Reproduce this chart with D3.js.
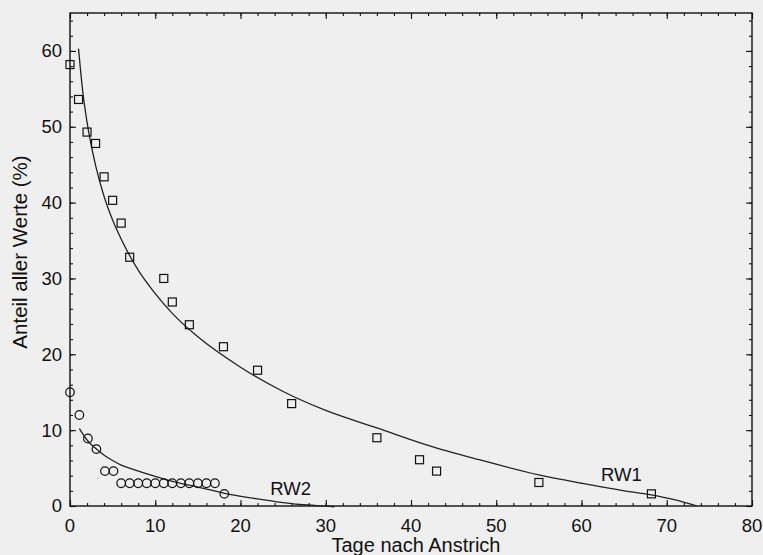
<!DOCTYPE html>
<html>
<head>
<meta charset="utf-8">
<script src="https://cdn.jsdelivr.net/npm/d3@7"></script>
<style>
  body { margin: 0; background: #efefef; }
  svg { display: block; }
  text { font-family: "Liberation Sans", Arial, sans-serif; }
</style>
</head>
<body>
<svg id="chart" width="763" height="555"></svg>
<script>
// RW1 (Quadrate)
var rw1Tage = [0, 1, 2, 3, 4, 5, 6, 7, 11, 12, 14, 18, 22, 26, 36, 41, 43, 55, 68.2];
var rw1Werte = [58.2, 53.6, 49.3, 47.8, 43.4, 40.3, 37.3, 32.8, 30.0, 26.9, 23.9, 21.0, 17.9, 13.5, 9.0, 6.1, 4.6, 3.1, 1.6];

// RW2 (Kreise)
var rw2Tage = [0, 1.1, 2.1, 3.1, 4.1, 5.1, 6, 7, 8, 9, 10, 11, 12, 13, 14, 15, 16, 17, 18.1];
var rw2Werte = [15.0, 12.0, 8.9, 7.5, 4.6, 4.6, 3.0, 3.0, 3.0, 3.0, 3.0, 3.0, 3.0, 3.0, 3.0, 3.0, 3.0, 3.0, 1.6];

// angepasste Kurven
var kurve1Tage = [1, 1.5, 2, 3, 4, 5, 6, 8, 10, 12, 15, 20, 25, 30, 36, 42, 48, 55, 60, 65, 68, 71, 73.5];
var kurve1Werte = [60.3, 54.6, 50.6, 44.9, 40.8, 37.7, 35.2, 31.1, 28.0, 25.4, 22.3, 18.3, 15.1, 12.6, 10.3, 8.0, 6.1, 4.1, 3.0, 2.0, 1.5, 0.8, 0];

var kurve2Tage = [1.1, 1.5, 2, 3, 4, 5, 6, 7.5, 10, 12.5, 15, 18, 21, 24, 27, 29, 31];
var kurve2Werte = [10.2, 9.5, 8.7, 7.6, 6.7, 6.0, 5.4, 4.8, 3.9, 3.1, 2.5, 1.7, 1.1, 0.6, 0.2, 0.05, -0.1];

var xTicks = [0, 10, 20, 30, 40, 50, 60, 70, 80];
var yTicks = [0, 10, 20, 30, 40, 50, 60];

var svg = d3.select("#chart");
var margin = {left: 70, top: 13, right: 11, bottom: 49};
var width = 763 - margin.left - margin.right;
var height = 555 - margin.top - margin.bottom;

var x = d3.scaleLinear().domain([0, 80]).range([0, width]);
var y = d3.scaleLinear().domain([0, 65]).range([height, 0]);

var g = svg.append("g").attr("transform", "translate(" + margin.left + "," + margin.top + ")");

// ticks nach innen
function ticks(axis, scale, values, len) {
  return axis(scale).tickValues(values).tickSizeInner(len).tickSizeOuter(0).tickFormat("");
}
var minorX = d3.range(0, 81, 2);
var minorY = d3.range(0, 65, 2);

g.append("g").attr("class", "ax").attr("transform", "translate(0," + height + ")").call(ticks(d3.axisBottom, x, minorX, -3));
g.append("g").attr("class", "ax").attr("transform", "translate(0," + height + ")").call(ticks(d3.axisBottom, x, xTicks, -6));
g.append("g").attr("class", "ax").call(ticks(d3.axisTop, x, minorX, -3));
g.append("g").attr("class", "ax").call(ticks(d3.axisTop, x, xTicks, -6));
g.append("g").attr("class", "ax").call(ticks(d3.axisLeft, y, minorY, -3));
g.append("g").attr("class", "ax").call(ticks(d3.axisLeft, y, yTicks, -6));
g.append("g").attr("class", "ax").attr("transform", "translate(" + width + ",0)").call(ticks(d3.axisRight, y, minorY, -3));
g.append("g").attr("class", "ax").attr("transform", "translate(" + width + ",0)").call(ticks(d3.axisRight, y, yTicks, -6));
g.selectAll(".ax .domain").remove();
g.selectAll(".ax line").attr("stroke", "#111").attr("stroke-width", 1.1);

g.append("rect")
  .attr("width", width).attr("height", height)
  .attr("fill", "none").attr("stroke", "#111").attr("stroke-width", 1.4);

// tick labels
g.append("g").selectAll("text")
  .data(xTicks)
  .enter()
  .append("text")
  .attr("x", d => x(d))
  .attr("y", height + 26)
  .attr("text-anchor", "middle")
  .style("font-size", "18.5px")
  .attr("fill", "#111")
  .text(d => d);

g.append("g").selectAll("text")
  .data(yTicks)
  .enter()
  .append("text")
  .attr("x", -8)
  .attr("y", d => y(d))
  .attr("dy", "0.35em")
  .attr("text-anchor", "end")
  .style("font-size", "18.5px")
  .attr("fill", "#111")
  .text(d => d);

// Achsentitel
svg.append("text")
  .attr("x", 416)
  .attr("y", 552)
  .attr("text-anchor", "middle")
  .style("font-size", "20px")
  .attr("fill", "#111")
  .text("Tage nach Anstrich");

svg.append("text")
  .attr("transform", "translate(27,252) rotate(-90)")
  .attr("text-anchor", "middle")
  .style("font-size", "20.5px")
  .attr("fill", "#111")
  .text("Anteil aller Werte (%)");

// Kurven
var line = d3.line()
  .x(d => x(d[0]))
  .y(d => y(d[1]))
  .curve(d3.curveMonotoneX);

g.append("path")
  .datum(d3.zip(kurve1Tage, kurve1Werte))
  .attr("d", line)
  .attr("fill", "none")
  .attr("stroke", "#222")
  .attr("stroke-width", 1.3);

g.append("path")
  .datum(d3.zip(kurve2Tage, kurve2Werte))
  .attr("d", line)
  .attr("fill", "none")
  .attr("stroke", "#222")
  .attr("stroke-width", 1.3);

// Punkte
g.append("g").selectAll("rect")
  .data(d3.zip(rw1Tage, rw1Werte))
  .enter()
  .append("rect")
  .attr("x", d => x(d[0]) - 4)
  .attr("y", d => y(d[1]) - 4)
  .attr("width", 8)
  .attr("height", 8)
  .attr("fill", "none")
  .attr("stroke", "#111")
  .attr("stroke-width", 1.2);

g.append("g").selectAll("circle")
  .data(d3.zip(rw2Tage, rw2Werte))
  .enter()
  .append("circle")
  .attr("cx", d => x(d[0]))
  .attr("cy", d => y(d[1]))
  .attr("r", 4.3)
  .attr("fill", "none")
  .attr("stroke", "#111")
  .attr("stroke-width", 1.2);

// Beschriftung
g.append("text")
  .attr("x", x(23.5)).attr("y", y(2.3))
  .attr("dy", "0.35em")
  .style("font-size", "18.5px")
  .attr("fill", "#111")
  .text("RW2");

g.append("text")
  .attr("x", x(62.3)).attr("y", y(4.1))
  .attr("dy", "0.35em")
  .style("font-size", "18.5px")
  .attr("fill", "#111")
  .text("RW1");
</script>
</body>
</html>
